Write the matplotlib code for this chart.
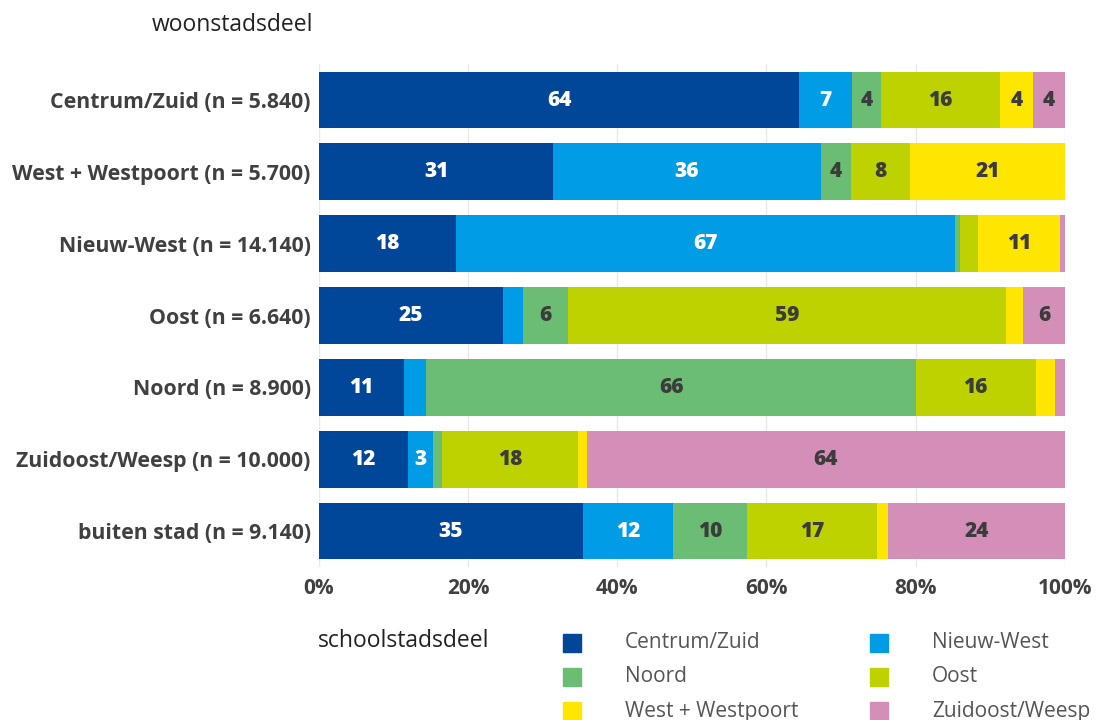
import numpy as np
import matplotlib.pyplot as plt
from matplotlib.patches import Rectangle

# woonstadsdeel (rows) and share per schoolstadsdeel (%)
woon = ['Centrum/Zuid (n = 5.840)', 'West + Westpoort (n = 5.700)',
        'Nieuw-West (n = 14.140)', 'Oost (n = 6.640)', 'Noord (n = 8.900)',
        'Zuidoost/Weesp (n = 10.000)', 'buiten stad (n = 9.140)']
school = ['Centrum/Zuid', 'Nieuw-West', 'Noord', 'Oost',
          'West + Westpoort', 'Zuidoost/Weesp']

centrum_zuid = [64.4, 31.4, 18.4, 24.7, 11.4, 11.9, 35.4]
nieuw_west = [7.1, 35.9, 66.9, 2.7, 3.0, 3.4, 12.1]
noord = [3.8, 4.0, 0.7, 6.0, 65.6, 1.2, 9.9]
oost = [16.0, 8.0, 2.4, 58.7, 16.1, 18.2, 17.4]
west_westpoort = [4.4, 20.7, 10.9, 2.3, 2.6, 1.2, 1.5]
zuidoost_weesp = [4.3, 0.0, 0.7, 5.6, 1.3, 64.1, 23.7]

series = [centrum_zuid, nieuw_west, noord, oost, west_westpoort, zuidoost_weesp]
colors = ['#004699', '#009de6', '#6cbd74', '#bed200', '#ffe600', '#d48fb9']
text_colors = ['white', 'white', '#3c3c3c', '#3c3c3c', '#3c3c3c', '#3c3c3c']
dark = '#404040'

plt.rcParams['font.family'] = ['Open Sans', 'DejaVu Sans']

fig = plt.figure(figsize=(11, 7.2), dpi=100)
ax = fig.add_axes([0.29, 0.2125, 0.678, 0.6985])

y = np.arange(len(woon))
left = np.zeros(len(woon))
for vals, col, tcol in zip(series, colors, text_colors):
    vals = np.array(vals)
    ax.barh(y, vals, left=left, height=0.79, color=col, zorder=2)
    for yi, (l, v) in enumerate(zip(left, vals)):
        if v >= 3.2:
            ax.text(l + v / 2, yi, f'{v:.0f}', ha='center', va='center',
                    color=tcol, fontsize=15, fontweight='heavy', zorder=3)
    left += vals

ax.set_xlim(0, 100)
ax.set_ylim(6.5, -0.5)
ax.set_yticks(y)
ax.set_yticklabels(woon, fontsize=15.3, fontweight='bold', color=dark)
ax.set_xticks([0, 20, 40, 60, 80, 100])
ax.set_xticklabels([f'{t}%' for t in range(0, 101, 20)],
                   fontsize=15, fontweight='bold', color=dark)
ax.tick_params(axis='y', length=0, pad=6)
ax.tick_params(axis='x', length=0, pad=8)
ax.grid(axis='x', color='#e8e8e8', linewidth=1, zorder=0)
for s in ax.spines.values():
    s.set_visible(False)

fig.text(152 / 1100, 1 - 25 / 720, 'woonstadsdeel', fontsize=16.5,
         color='#222222', ha='left', va='center')

# legend
fig.text(318 / 1100, 1 - 641 / 720, 'schoolstadsdeel', fontsize=16.5,
         color='#222222', ha='left', va='center')
col_x = [563, 870]
row_y = [643, 677, 711]
for i, (name, col) in enumerate(zip(school, colors)):
    cx = col_x[i % 2]
    cy = row_y[i // 2]
    fig.add_artist(Rectangle((cx / 1100, 1 - (cy + 9) / 720), 18 / 1100, 18 / 720,
                             transform=fig.transFigure, color=col))
    fig.text((cx + 62) / 1100, 1 - cy / 720, name, fontsize=15,
             color='#555555', ha='left', va='center')

fig.savefig('out.png', dpi=100)
